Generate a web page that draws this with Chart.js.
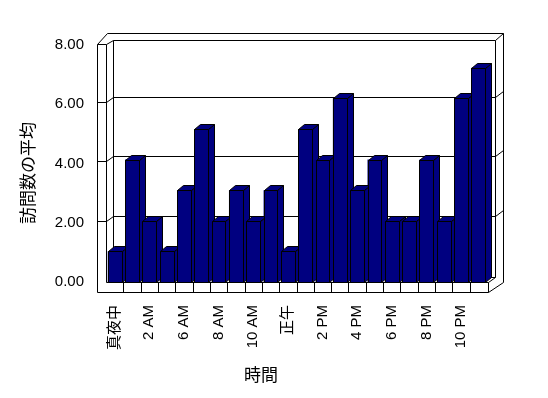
<!DOCTYPE html>
<html lang="ja">
<head>
<meta charset="UTF-8">
<title>時間別の訪問数の平均</title>
<script src="https://cdn.jsdelivr.net/npm/chart.js"></script>
<style>
  body { margin: 0; background: #fff; }
  canvas { display: block; }
</style>
</head>
<body>
<canvas id="chart" width="548" height="398"></canvas>
<script>
  // Daten
  const hours = ['真夜中', '1 AM', '2 AM', '4 AM', '6 AM', '7 AM', '8 AM', '9 AM', '10 AM', '11 AM',
                 '正午', '1 PM', '2 PM', '3 PM', '4 PM', '5 PM', '6 PM', '7 PM', '8 PM', '9 PM', '10 PM', '11 PM'];
  const visits = [1, 4, 2, 1, 3, 5, 2, 3, 2, 3, 1, 5, 4, 6, 3, 4, 2, 2, 4, 2, 6, 7];
  const yTicks = [0, 2, 4, 6, 8];
  const yTitle = '訪問数の平均';
  const xTitle = '時間';

  const FONT = "'Liberation Sans', 'Noto Sans CJK JP', sans-serif";
  const NAVY = '#000080';
  const DX = 6, DY = 5; // Tiefe der Säulen

  function line(ctx, x1, y1, x2, y2) {
    ctx.beginPath();
    ctx.moveTo(x1 + 0.5, y1 + 0.5);
    ctx.lineTo(x2 + 0.5, y2 + 0.5);
    ctx.stroke();
  }

  function poly(ctx, pts) {
    ctx.beginPath();
    pts.forEach((p, i) => i ? ctx.lineTo(p[0] + 0.5, p[1] + 0.5) : ctx.moveTo(p[0] + 0.5, p[1] + 0.5));
    ctx.closePath();
    ctx.fill();
    ctx.stroke();
  }

  // 3D-Rahmen, Boden und Gitter
  const box3d = {
    id: 'box3d',
    beforeDatasetsDraw(chart) {
      const ctx = chart.ctx, a = chart.chartArea, yl = chart.scales.yl, xs = chart.scales.x;
      const L = Math.round(a.left), R = Math.round(a.right), B = Math.round(a.bottom);
      const front = v => Math.round(yl.getPixelForValue(v)) - 2;
      const xw0 = L - 9, xw1 = L, xb0 = L + 7, xb1 = R + 8, xo = R + 16;
      const yTop = Math.round(yl.getPixelForValue(8)) - 1, yIn = yTop - 4, yOut = yTop - 11;
      const yF = B + 10, yFB = B - 5;
      ctx.save();
      ctx.strokeStyle = '#000';
      ctx.lineWidth = 1;
      // linke Wand
      line(ctx, xw0, yTop, xw0, yF);
      line(ctx, xw1, yTop, xw1, B);
      line(ctx, xw0, yTop, xw1, yTop);
      line(ctx, xw0, yTop, xw0 + 10, yOut);
      line(ctx, xw1, yTop, xb0, yIn);
      // Rückwand
      line(ctx, xw0 + 10, yOut, xo, yOut);
      line(ctx, xb0, yIn, xb1, yIn);
      line(ctx, xb0, yIn, xb0, yFB);
      line(ctx, xb1, yIn, xb1, yFB);
      line(ctx, xb1, yIn, xo, yOut);
      line(ctx, xo, yOut, xo, B);
      // Boden
      line(ctx, xw0, yF, R + 1, yF);
      line(ctx, xw1, B, R + 1, B);
      line(ctx, R + 1, B, R + 1, yF);
      line(ctx, R + 1, yF, xo, B);
      line(ctx, R + 1, B, xb1, yFB);
      line(ctx, xb0, yFB, xb1, yFB);
      for (let i = 1; i < hours.length; i++) {
        const bx = Math.round((xs.getPixelForValue(i - 1) + xs.getPixelForValue(i)) / 2);
        line(ctx, bx, B, bx, yF);
      }
      // Gitterlinien
      yTicks.slice(1, -1).forEach(v => {
        const f = front(v), b = f - 5;
        line(ctx, xw0, f, xw1, f);
        line(ctx, xw1, f, xb0, b);
        line(ctx, xb0, b, xb1, b);
        line(ctx, xb1, b, xo, b - 6);
      });
      ctx.restore();
    },
    afterDatasetsDraw(chart) {
      const ctx = chart.ctx;
      ctx.save();
      ctx.fillStyle = NAVY;
      ctx.strokeStyle = '#000';
      ctx.lineWidth = 1;
      chart.getDatasetMeta(0).data.forEach(bar => {
        const p = bar.getProps(['x', 'y', 'base', 'width'], true);
        const x0 = Math.round(p.x - p.width / 2), x1 = Math.round(p.x + p.width / 2);
        const yt = Math.round(p.y), yb = Math.round(p.base);
        poly(ctx, [[x1, yt], [x1 + DX, yt - DY], [x1 + DX, yb - DY], [x1, yb]]);
        poly(ctx, [[x0, yt], [x0 + DX, yt - DY], [x1 + DX, yt - DY], [x1, yt]]);
        poly(ctx, [[x0, yt], [x1, yt], [x1, yb], [x0, yb]]);
      });
      ctx.restore();
    },
    afterDraw(chart) {
      const ctx = chart.ctx;
      ctx.save();
      ctx.fillStyle = '#000';
      ctx.font = "17px 'Noto Sans CJK JP', sans-serif";
      ctx.textAlign = 'center';
      ctx.textBaseline = 'middle';
      ctx.fillText(xTitle, 261, 375);
      ctx.translate(28, 173);
      ctx.rotate(-Math.PI / 2);
      ctx.fillText(yTitle, 0, 0);
      ctx.restore();
    }
  };

  new Chart(document.getElementById('chart'), {
    type: 'bar',
    data: {
      labels: hours,
      datasets: [{
        data: visits,
        backgroundColor: NAVY,
        borderWidth: 0,
        barPercentage: 0.8,
        categoryPercentage: 1,
        yAxisID: 'y'
      }]
    },
    options: {
      responsive: false,
      devicePixelRatio: 1,
      animation: false,
      layout: { padding: { top: 37, right: 61, bottom: 0, left: 0 } },
      plugins: {
        legend: { display: false },
        tooltip: { enabled: false }
      },
      scales: {
        x: {
          grid: { display: false, drawTicks: false },
          border: { display: false },
          ticks: {
            autoSkip: false,
            minRotation: 90,
            maxRotation: 90,
            padding: 23,
            color: '#000',
            font: { family: FONT, size: 15 },
            callback: (v, i) => i % 2 ? '' : hours[i]
          },
          afterFit: s => { s.height = 116; }
        },
        y: { display: false, min: 0, max: 8 },
        yl: {
          type: 'linear',
          position: 'left',
          min: 0,
          max: 8.27,
          afterBuildTicks: s => { s.ticks = yTicks.map(v => ({ value: v })); },
          grid: { display: false, drawTicks: false },
          border: { display: false },
          ticks: {
            padding: 22,
            color: '#000',
            font: { family: FONT, size: 15 },
            callback: v => v.toFixed(2)
          },
          afterFit: s => { s.width = 106; }
        }
      }
    },
    plugins: [box3d]
  });
</script>
</body>
</html>
